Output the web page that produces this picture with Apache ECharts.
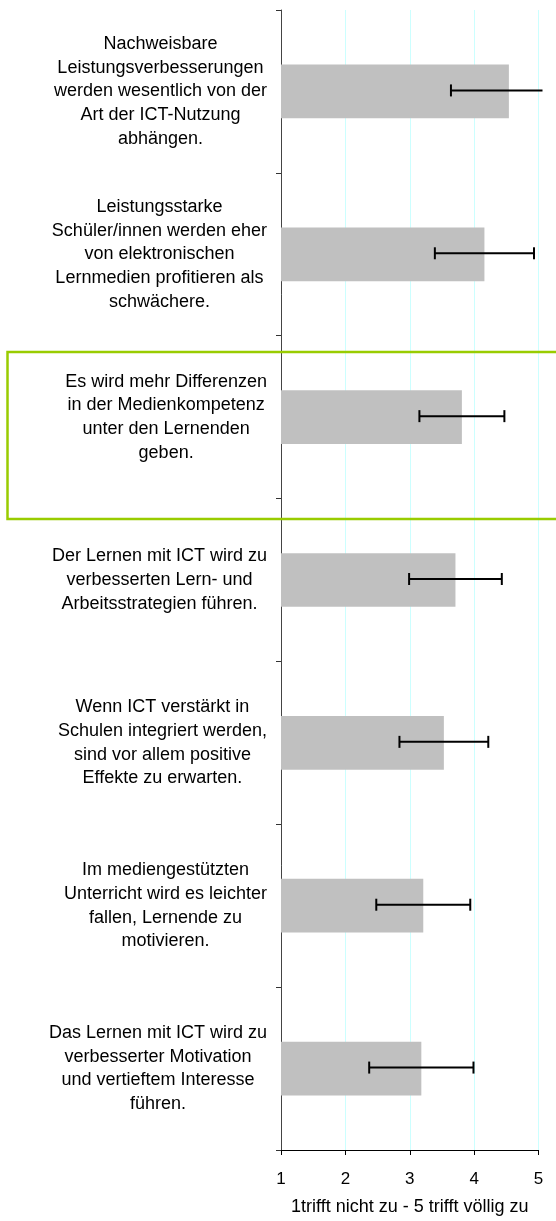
<!DOCTYPE html>
<html>
<head>
<meta charset="utf-8">
<script src="https://cdn.jsdelivr.net/npm/echarts@6/dist/echarts.min.js"></script>
<style>
html,body{margin:0;padding:0;background:#fff;}
#chart{width:556px;height:1221px;}
</style>
</head>
<body>
<div id="chart"></div>
<script>
// Category labels (line breaks as in the original)
var categories = [
  ["Nachweisbare", "Leistungsverbesserungen", "werden wesentlich von der", "Art der ICT-Nutzung", "abhängen."],
  ["Leistungsstarke", "Schüler/innen werden eher", "von elektronischen", "Lernmedien profitieren als", "schwächere."],
  ["Es wird mehr Differenzen", "in der Medienkompetenz", "unter den Lernenden", "geben."],
  ["Der Lernen mit ICT wird zu", "verbesserten Lern- und", "Arbeitsstrategien führen."],
  ["Wenn ICT verstärkt in", "Schulen integriert werden,", "sind vor allem positive", "Effekte zu erwarten."],
  ["Im mediengestützten", "Unterricht wird es leichter", "fallen, Lernende zu", "motivieren."],
  ["Das Lernen mit ICT wird zu", "verbesserter Motivation", "und vertieftem Interesse", "führen."]
];
// Mean values and standard deviations
var means = [4.54, 4.16, 3.81, 3.71, 3.53, 3.21, 3.18];
var sds   = [0.90, 0.77, 0.66, 0.72, 0.69, 0.73, 0.81];
// X axis ticks
var xTicks = [1, 2, 3, 4, 5];
var xAxisTitle = "1trifft nicht zu - 5 trifft völlig zu";

var catKeys = categories.map(function (c, i) { return 'c' + i; });
var labelMap = {};
categories.forEach(function (c, i) { labelMap['c' + i] = c; });

var errData = means.map(function (m, i) { return [i, m - sds[i], m + sds[i]]; });

var FONT = '"Liberation Sans", Arial, sans-serif';
var chart = echarts.init(document.getElementById('chart'));
chart.setOption({
  animation: false,
  backgroundColor: '#fff',
  grid: { left: 281, right: 17.5, top: 10, bottom: 67, containLabel: false },
  xAxis: {
    type: 'value',
    min: xTicks[0], max: xTicks[xTicks.length - 1], interval: 1,
    name: xAxisTitle,
    nameLocation: 'middle',
    nameGap: 48,
    nameTextStyle: { fontFamily: FONT, fontSize: 18, color: '#000' },
    axisLine: { show: true, lineStyle: { color: '#000', width: 1 } },
    axisTick: { show: true, length: 5, lineStyle: { color: '#000' } },
    axisLabel: { fontFamily: FONT, fontSize: 17, color: '#000', margin: 21 },
    splitLine: { show: true, lineStyle: { color: '#ccffff', width: 1 } }
  },
  yAxis: {
    type: 'category',
    inverse: true,
    data: catKeys,
    axisLine: { show: true, lineStyle: { color: '#444', width: 1 } },
    axisTick: { show: true, length: 5, lineStyle: { color: '#333' } },
    axisLabel: {
      fontFamily: FONT, fontSize: 18, color: '#000',
      margin: 14, align: 'right', lineHeight: 23.7,
      formatter: function (v) {
        return labelMap[v].map(function (l) { return '{c|' + l + '}'; }).join('\n');
      },
      rich: { c: { align: 'center', fontFamily: FONT, fontSize: 18, color: '#000', lineHeight: 23.7 } }
    },
    splitLine: { show: false }
  },
  series: [
    {
      type: 'bar',
      data: means,
      barWidth: '33%',
      itemStyle: { color: '#c0c0c0' },
      z: 2
    },
    {
      type: 'custom',
      data: errData,
      z: 3,
      clip: false,
      renderItem: function (params, api) {
        var idx = api.value(0);
        var lo = api.coord([api.value(1), idx]);
        var hi = api.coord([api.value(2), idx]);
        var y = lo[1] - 1;
        var limit = params.coordSys.x + params.coordSys.width + 4;
        var hx = Math.min(hi[0], limit);
        var st = { stroke: '#000', lineWidth: 2 };
        var children = [
          { type: 'line', shape: { x1: lo[0], y1: y, x2: hx, y2: y }, style: st },
          { type: 'line', shape: { x1: lo[0], y1: y - 6, x2: lo[0], y2: y + 6 }, style: st }
        ];
        if (hi[0] <= limit) {
          children.push({ type: 'line', shape: { x1: hx, y1: y - 6, x2: hx, y2: y + 6 }, style: st });
        }
        return { type: 'group', children: children };
      }
    }
  ],
  graphic: [
    {
      type: 'rect',
      z: 100,
      shape: { x: 7.5, y: 352, width: 560, height: 167 },
      style: { fill: 'none', stroke: '#99cc00', lineWidth: 2.5 }
    }
  ]
});
</script>
</body>
</html>
